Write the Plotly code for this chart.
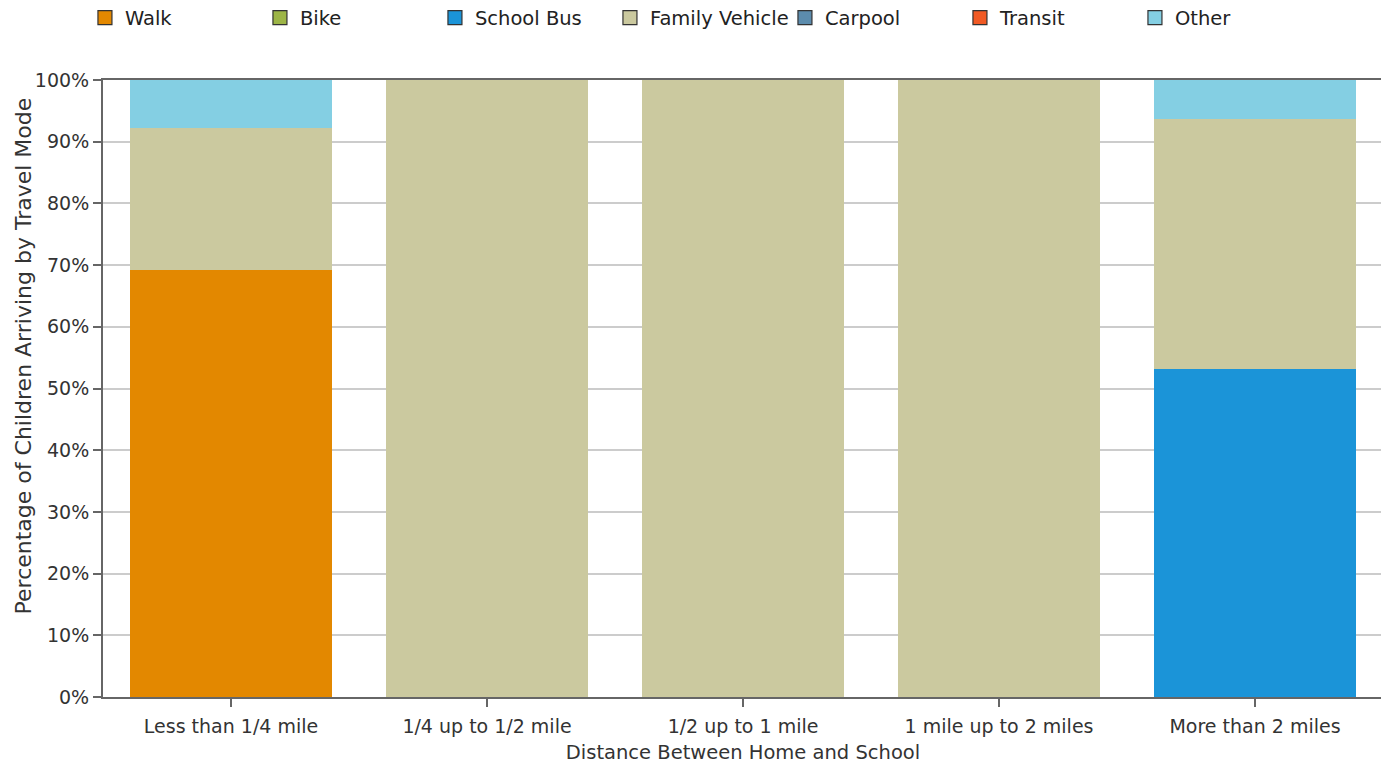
import plotly.graph_objects as go

categories = ["Less than 1/4 mile", "1/4 up to 1/2 mile", "1/2 up to 1 mile",
              "1 mile up to 2 miles", "More than 2 miles"]
modes = ["Walk", "Bike", "School Bus", "Family Vehicle", "Carpool", "Transit", "Other"]
walk = [69.2, 0, 0, 0, 0]
bike = [0, 0, 0, 0, 0]
school_bus = [0, 0, 0, 0, 53.2]
family_vehicle = [23.1, 100, 100, 100, 40.4]
carpool = [0, 0, 0, 0, 0]
transit = [0, 0, 0, 0, 0]
other = [7.7, 0, 0, 0, 6.4]
y_ticks = [0, 10, 20, 30, 40, 50, 60, 70, 80, 90, 100]

series = [walk, bike, school_bus, family_vehicle, carpool, transit, other]
colors = ["#E38800", "#9DB546", "#1B94D8", "#CBC99F", "#5C8CAD", "#F15A24", "#84CFE3"]

FONT = "DejaVu Sans, Verdana, sans-serif"
fig = go.Figure()
for name, vals, col in zip(modes, series, colors):
    fig.add_trace(go.Bar(x=categories, y=vals, name=name, marker_color=col,
                         marker_line_width=0, showlegend=False))
for name, col in zip(modes, colors):
    fig.add_trace(go.Scatter(x=[None], y=[None], mode="markers", name=name,
                             marker=dict(symbol="square", size=14, color=col,
                                         line=dict(color="#333333", width=1.2)),
                             showlegend=True))

fig.add_annotation(text="Percentage of Children Arriving by Travel Mode",
                   textangle=-90, xref="paper", yref="paper",
                   x=-0.0625, y=0.552, xanchor="center", yanchor="middle",
                   showarrow=False, font=dict(size=22, color="#333333"))

fig.update_layout(
    width=1389, height=765,
    barmode="stack", bargap=0.21,
    paper_bgcolor="white", plot_bgcolor="white",
    margin=dict(l=95, r=14, t=72, b=76),
    font=dict(family=FONT, size=19, color="#333333"),
    legend=dict(orientation="h", xref="container", yref="container",
                x=0.0554, y=1 - 10 / 765, xanchor="left", yanchor="middle",
                entrywidth=130, entrywidthmode="pixels", traceorder="normal",
                font=dict(size=19.5, color="#222222"), itemwidth=30,
                tracegroupgap=0, bgcolor="rgba(0,0,0,0)"),
    xaxis=dict(showline=True, linecolor="#666666", linewidth=2, mirror=True,
               automargin=False,
               ticks="outside", ticklen=8, tickcolor="#666666", tickwidth=1.5,
               ticklabelstandoff=3,
               title=dict(text="Distance Between Home and School", standoff=10,
                          font=dict(size=19.5)),
               tickfont=dict(size=19)),
    yaxis=dict(range=[0, 100], tickvals=y_ticks, automargin=False,
               ticktext=[f"{v}%" for v in y_ticks],
               showline=True, linecolor="#666666", linewidth=2, mirror=True,
               ticks="outside", ticklen=8, tickcolor="#666666", tickwidth=1.5,
               showgrid=True, gridcolor="#CCCCCC", gridwidth=1.5,
               tickfont=dict(size=19)),
)

fig.write_html("out.html")
